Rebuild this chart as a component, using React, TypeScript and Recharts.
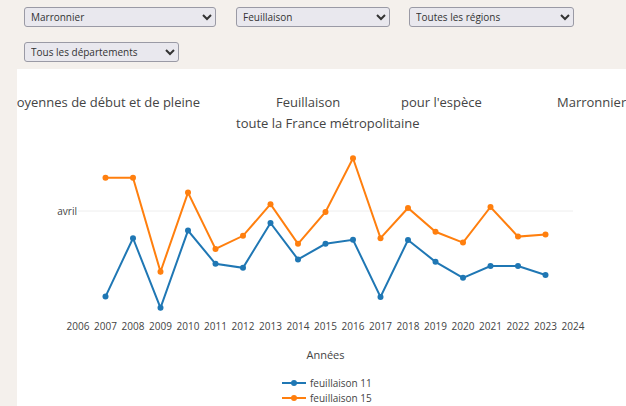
import React from 'react';
import { LineChart, Line, XAxis, YAxis, ReferenceLine, Legend } from 'recharts';

// day of year (1 avril = 91)
const years = [2007, 2008, 2009, 2010, 2011, 2012, 2013, 2014, 2015, 2016, 2017, 2018, 2019, 2020, 2021, 2022, 2023];
const feuillaison11 = [69.6, 84.2, 66.8, 86.1, 77.8, 76.8, 88, 78.9, 82.8, 83.8, 69.5, 83.75, 78.3, 74.3, 77.25, 77.25, 75];
const feuillaison15 = [99.3, 99.3, 75.8, 95.6, 81.5, 84.8, 92.7, 82.8, 90.75, 104.2, 84.2, 91.75, 85.8, 83.1, 92, 84.6, 85.1];
const yearTicks = [2006, 2007, 2008, 2009, 2010, 2011, 2012, 2013, 2014, 2015, 2016, 2017, 2018, 2019, 2020, 2021, 2022, 2023, 2024];
const monthTicks = [91];
const monthLabels: Record<number, string> = { 91: 'avril' };

const selects = [
    { label: 'Marronnier', left: 24, top: 7, width: 192 },
    { label: 'Feuillaison', left: 236, top: 7, width: 154 },
    { label: 'Toutes les régions', left: 409, top: 7, width: 165 },
    { label: 'Tous les départements', left: 24, top: 42, width: 155 },
];

const data = years.map((y, i) => ({ year: y, f11: feuillaison11[i], f15: feuillaison15[i] }));

const BLUE = '#1f77b4';
const ORANGE = '#ff7f0e';
const FONT = '"Open Sans", sans-serif';

const titleStyle: React.CSSProperties = {
    position: 'absolute',
    fontFamily: FONT,
    fontSize: 13,
    color: '#444',
    whiteSpace: 'nowrap',
    lineHeight: '16px',
};

const LegendBox = () => (
    <div style={{ fontFamily: FONT, fontSize: 10, color: '#444' }}>
        {[{ name: 'feuillaison 11', color: BLUE }, { name: 'feuillaison 15', color: ORANGE }].map((it) => (
            <div key={it.name} style={{ display: 'flex', alignItems: 'center', height: 15 }}>
                <svg width={24} height={10} style={{ marginRight: 4 }}>
                    <line x1={0} y1={5} x2={24} y2={5} stroke={it.color} strokeWidth={2} />
                    <circle cx={12} cy={5} r={3} fill={it.color} />
                </svg>
                <span>{it.name}</span>
            </div>
        ))}
    </div>
);

const App: React.FC = () => {
    return (
        <div style={{ position: 'fixed', left: 0, top: 0, width: 626, height: 406, background: '#f4f0ec', overflow: 'hidden' }}>
            {selects.map((s) => (
                <select
                    key={s.label}
                    defaultValue={s.label}
                    style={{
                        position: 'absolute', left: s.left, top: s.top, width: s.width, height: 20,
                        fontFamily: FONT, fontSize: 10, color: '#333', background: '#e9e8ee',
                        border: '1px solid #9a9aa5', borderRadius: 3, padding: '0 2px',
                    }}
                >
                    <option>{s.label}</option>
                </select>
            ))}
            <div style={{ position: 'absolute', left: 17, top: 69, width: 609, height: 337, background: '#fff', overflow: 'hidden' }}>
                <span style={{ ...titleStyle, right: 609 - 183, top: 25 }}>Dates moyennes de début et de pleine</span>
                <span style={{ ...titleStyle, left: 259, top: 25 }}>Feuillaison</span>
                <span style={{ ...titleStyle, left: 384, top: 25 }}>pour l'espèce</span>
                <span style={{ ...titleStyle, left: 540, top: 25 }}>Marronnier</span>
                <span style={{ ...titleStyle, left: 219, top: 46 }}>toute la France métropolitaine</span>
            </div>
            <div style={{ position: 'absolute', left: 0, top: 0 }}>
                <LineChart width={626} height={406} data={data} margin={{ top: 135, right: 53, left: 18, bottom: 61 }}>
                    <XAxis
                        dataKey="year"
                        type="number"
                        domain={[2006, 2024]}
                        ticks={yearTicks}
                        axisLine={false}
                        tickLine={false}
                        tick={{ fontFamily: FONT, fontSize: 10, fill: '#444' }}
                        label={{ value: 'Années', position: 'bottom', offset: 6, style: { fontFamily: FONT, fontSize: 11, fill: '#444' } }}
                    />
                    <YAxis
                        type="number"
                        domain={[65, 110]}
                        ticks={monthTicks}
                        width={60}
                        axisLine={false}
                        tickLine={false}
                        tickSize={0}
                        tickMargin={1}
                        tickFormatter={(v: number) => monthLabels[v] ?? ''}
                        tick={{ fontFamily: FONT, fontSize: 10, fill: '#444' }}
                    />
                    {monthTicks.map((t) => (
                        <ReferenceLine key={t} y={t} stroke="#eee" strokeWidth={1} />
                    ))}
                    <Legend
                        layout="vertical"
                        align="center"
                        verticalAlign="middle"
                        content={<LegendBox />}
                        wrapperStyle={{ position: 'absolute', left: 282, top: 375, width: 120 }}
                    />
                    <Line type="linear" dataKey="f11" name="feuillaison 11" stroke={BLUE} strokeWidth={2}
                        dot={{ r: 3, fill: BLUE, stroke: BLUE, strokeWidth: 0 }} isAnimationActive={false} />
                    <Line type="linear" dataKey="f15" name="feuillaison 15" stroke={ORANGE} strokeWidth={2}
                        dot={{ r: 3, fill: ORANGE, stroke: ORANGE, strokeWidth: 0 }} isAnimationActive={false} />
                </LineChart>
            </div>
        </div>
    );
};

export default App;
